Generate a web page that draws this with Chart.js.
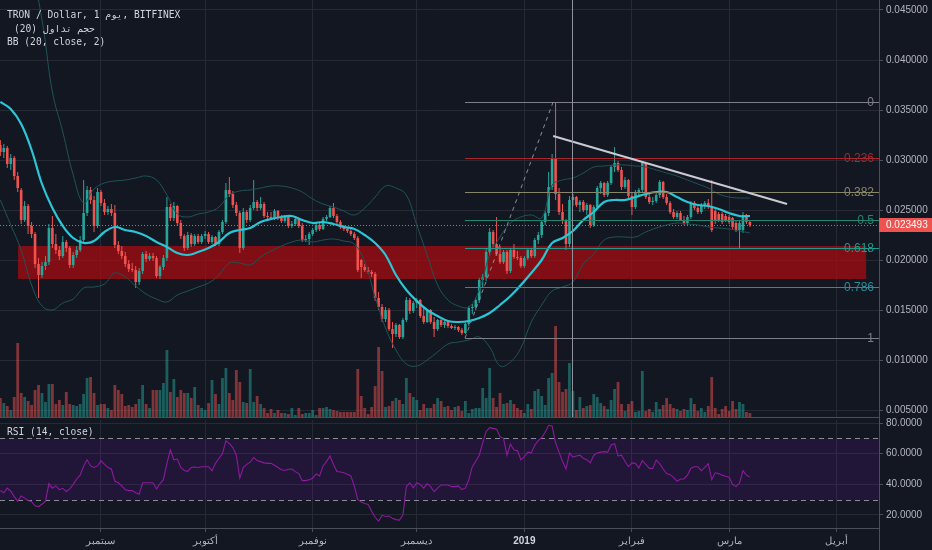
<!DOCTYPE html>
<html>
<head>
<meta charset="utf-8">
<script src="https://cdn.jsdelivr.net/npm/chart.js@4.4.1/dist/chart.umd.min.js"></script>
<style>
html, body { margin: 0; padding: 0; background: #131722; }
#wrap { position: relative; width: 932px; height: 550px; overflow: hidden; }
canvas { position: absolute; left: 0; }
</style>
</head>
<body>
<div id="wrap">
  <canvas id="priceChart" width="932" height="420" style="top:0;width:932px;height:420px"></canvas>
  <canvas id="rsiChart" width="932" height="150" style="top:400px;width:932px;height:150px"></canvas>
</div>
<script>
// day 0 = 2018-09-01, first candle is 2018-08-03
var FIRST_DAY = -29;

// month starts (days from Sep 1) and their labels
var monthDays = [0, 30, 61, 91, 122, 153, 181, 212];
var monthLabels = ['سبتمبر', 'أكتوبر', 'نوفمبر', 'ديسمبر', '2019', 'فبراير', 'مارس', 'أبريل'];

// price ticks (in 0.001 USD) and RSI ticks
var priceTicks = [5, 10, 15, 20, 25, 30, 35, 40, 45];
var rsiTicks = [20, 40, 60, 80];

// daily candles [open, high, low, close] in 0.001 USD
var candles = [
  [31.5,32.0,30.4,30.8],[30.8,31.6,30.2,31.2],[31.2,31.4,29.2,29.6],[29.6,30.6,29.0,30.2],[30.2,30.4,28.0,28.4],
  [28.4,28.8,26.8,27.2],[27.0,27.2,23.6,24.0],[24.0,25.9,23.8,25.4],[25.4,25.6,22.6,23.4],[23.4,23.8,22.2,22.6],
  [22.6,22.8,19.2,19.6],[19.6,20.2,16.2,18.5],[18.5,19.8,18.2,19.4],[19.4,20.4,19.0,19.8],[19.8,23.6,19.5,23.2],
  [23.2,24.4,21.2,21.6],[21.6,22.6,20.6,21.0],[21.0,21.4,20.0,20.4],[20.4,22.4,20.2,21.8],[21.8,22.0,20.8,21.2],
  [21.2,21.4,19.2,19.5],[19.5,20.8,19.2,20.5],[20.5,21.4,20.2,21.0],[21.0,22.4,20.8,22.0],[22.0,28.0,21.8,24.7],
  [24.7,27.4,24.4,27.0],[27.0,27.3,25.6,26.0],[26.0,26.4,22.8,23.4],[23.4,27.2,23.2,26.8],[26.8,27.0,25.4,25.7],
  [25.7,26.1,24.5,24.8],[24.8,25.4,24.5,25.1],[25.1,25.6,24.4,24.7],[24.7,25.5,21.2,21.5],[21.5,21.9,20.6,20.9],
  [20.9,21.4,20.1,20.4],[20.4,20.8,19.3,19.6],[19.6,20.0,18.8,19.1],[19.1,19.7,18.8,19.0],[19.0,19.4,17.2,17.8],
  [17.8,19.2,17.5,18.9],[18.9,20.8,18.6,20.6],[20.6,20.9,19.8,20.1],[20.1,20.7,19.9,20.4],[20.4,20.7,19.9,20.2],
  [20.2,20.4,18.2,18.4],[18.4,19.5,18.1,19.3],[19.3,20.5,19.0,20.2],[20.2,26.3,19.9,25.3],[25.3,25.6,23.9,24.2],
  [24.2,25.8,23.9,25.4],[25.4,25.5,23.4,23.7],[23.7,24.0,22.1,22.4],[22.4,22.6,20.9,21.2],[21.2,22.8,21.0,22.5],
  [22.5,22.7,21.3,21.6],[21.6,22.6,21.4,22.4],[22.4,22.6,21.6,21.8],[21.8,22.6,21.6,22.4],[22.4,22.9,22.1,22.6],
  [22.6,22.8,21.6,21.8],[21.8,22.5,21.6,22.3],[22.3,22.4,21.4,21.6],[21.6,23.0,21.4,22.8],[22.8,24.0,22.6,23.8],
  [23.8,27.7,23.6,27.0],[27.0,28.3,26.3,26.6],[26.6,26.9,25.2,25.5],[25.5,25.8,24.4,24.7],[24.7,24.9,20.7,21.2],
  [21.2,25.2,21.0,24.8],[24.8,25.0,23.7,24.0],[24.0,25.5,23.8,25.2],[25.2,28.0,25.0,25.8],[25.8,26.0,24.9,25.2],
  [25.2,26.3,25.0,25.6],[25.6,25.8,24.2,24.4],[24.4,24.8,24.0,24.3],[24.3,24.8,24.0,24.2],[24.2,25.1,24.0,24.9],
  [24.9,25.0,24.0,24.2],[24.2,24.5,23.7,23.9],[23.9,24.5,23.7,24.3],[24.3,24.4,23.2,23.4],[23.4,23.9,23.2,23.6],
  [23.6,24.3,23.4,24.1],[24.1,24.2,23.2,23.4],[23.4,23.7,21.8,22.0],[22.0,22.5,21.8,22.1],[22.1,22.8,21.5,22.6],
  [22.6,23.2,22.4,23.0],[23.0,23.7,22.8,23.5],[23.5,23.7,22.9,23.1],[23.1,24.3,23.0,24.1],[24.1,24.5,23.9,24.3],
  [24.3,25.4,24.2,25.2],[25.2,25.7,24.2,24.4],[24.4,24.6,23.6,23.8],[23.8,24.0,23.1,23.3],[23.3,23.5,22.9,23.1],
  [23.1,23.3,22.7,22.9],[22.9,23.1,22.4,22.6],[22.6,22.8,22.0,22.2],[22.2,22.4,18.8,19.0],[20.0,20.1,18.2,19.3],
  [19.3,19.6,18.8,19.0],[19.0,19.3,18.6,18.8],[18.8,19.0,18.3,18.6],[18.6,18.8,15.9,16.2],[16.2,16.8,15.0,15.3],
  [15.3,15.6,13.8,14.1],[14.1,15.3,13.8,15.0],[15.0,15.2,12.9,13.1],[13.1,13.8,11.2,12.6],[12.6,13.7,12.3,13.5],
  [13.5,13.6,12.1,12.3],[12.3,14.2,12.1,14.0],[14.0,16.3,13.8,16.0],[16.0,16.2,14.6,14.9],[14.9,15.9,14.7,15.7],
  [15.7,16.2,15.2,16.0],[16.0,16.1,14.2,14.4],[14.4,15.3,13.6,13.8],[13.8,15.1,13.7,15.0],[15.0,15.1,13.6,13.8],
  [13.8,14.3,12.3,13.1],[13.1,14.1,12.9,14.0],[14.0,14.1,13.3,13.5],[13.5,13.9,13.2,13.8],[13.8,13.9,13.2,13.4],
  [13.4,13.6,13.1,13.2],[13.2,13.5,13.0,13.3],[13.3,13.4,12.8,13.0],[13.0,13.2,12.5,12.7],[12.7,13.8,12.6,13.6],
  [13.6,15.4,13.4,15.2],[15.2,15.6,14.6,15.3],[15.3,16.2,15.0,16.0],[16.0,18.2,15.7,18.0],[18.0,18.6,17.3,18.3],
  [18.3,21.2,17.9,20.8],[20.8,23.2,20.4,22.8],[22.8,23.0,21.3,21.6],[21.6,24.3,20.4,20.6],[20.6,21.4,19.6,19.8],
  [19.8,21.0,19.6,20.8],[20.8,21.0,18.6,18.9],[18.9,21.2,18.7,21.0],[21.0,21.6,20.1,20.3],[20.3,20.9,20.0,20.2],
  [20.2,20.4,19.2,19.4],[19.4,20.4,19.2,20.2],[20.2,21.2,20.0,21.0],[21.0,21.1,20.2,20.4],[20.4,22.2,20.2,22.0],
  [22.0,22.8,21.6,22.5],[22.5,24.0,22.2,23.8],[23.8,24.9,23.5,24.7],[24.7,28.8,24.4,27.3],[27.3,30.6,27.0,30.2],
  [30.2,35.8,26.0,26.6],[26.6,27.2,24.5,24.8],[24.8,25.6,23.6,23.9],[23.9,24.1,21.0,21.6],[21.6,26.4,21.3,26.0],
  [26.0,26.6,25.4,26.3],[26.3,26.4,25.3,25.5],[25.5,26.0,24.8,25.8],[25.8,26.0,24.8,25.0],[25.0,25.7,24.5,25.5],
  [25.5,25.6,23.2,23.5],[23.5,25.5,23.3,25.3],[25.3,27.4,25.1,27.2],[27.2,27.9,26.6,27.7],[27.7,27.8,26.3,26.5],
  [26.5,27.9,26.3,27.7],[27.7,29.5,27.5,29.3],[29.3,31.3,28.8,29.7],[29.7,29.9,28.8,29.0],[29.0,29.3,27.0,27.3],
  [27.3,28.3,27.1,28.0],[28.0,28.1,26.2,26.4],[26.4,26.8,24.5,25.3],[25.3,27.0,25.1,26.8],[26.8,27.2,26.4,27.0],
  [27.0,29.9,26.7,29.7],[29.7,29.8,26.1,26.3],[26.3,26.8,25.6,25.8],[25.8,26.3,25.5,25.9],[25.9,26.7,25.7,26.5],
  [26.5,28.0,26.2,27.8],[27.8,27.9,26.1,26.3],[26.3,26.6,25.5,25.7],[25.7,25.9,24.6,24.8],[24.8,25.1,24.1,24.3],
  [24.3,24.9,24.1,24.7],[24.7,24.9,23.9,24.0],[24.0,24.4,23.5,23.7],[23.7,24.5,23.5,24.3],[24.3,25.9,24.1,25.7],
  [25.7,25.9,25.0,25.2],[25.2,25.5,24.6,24.8],[24.8,25.7,24.6,25.5],[25.5,25.9,25.1,25.7],[25.7,26.1,25.1,25.3],
  [25.3,28.0,22.8,23.0],[24.9,25.1,23.6,23.9],[24.6,24.8,23.8,24.0],[24.6,24.8,23.6,23.8],[24.4,24.6,23.8,24.0],
  [24.3,24.5,23.6,23.8],[24.2,24.3,23.1,23.3],[23.7,23.9,22.8,23.0],[23.0,23.9,21.2,23.7],[23.0,24.8,22.7,24.5],
  [24.4,24.6,23.6,23.8],[23.8,24.0,23.3,23.493]
];

// daily volume (arbitrary units)
var volume = [
  19,14,11,7,20,74,24,20,16,12,
  27,32,24,15,33,33,13,17,12,25,
  13,12,11,13,23,39,40,24,12,13,
  13,9,7,32,27,23,11,12,10,13,
  18,32,13,9,27,27,27,34,67,25,
  38,20,27,24,24,19,30,12,9,7,
  14,37,23,13,39,49,24,17,47,35,
  15,14,48,15,21,13,9,4,8,4,
  7,4,4,3,9,2,9,3,4,4,
  7,2,9,9,10,8,7,6,5,5,
  5,5,5,48,21,9,3,10,31,70,
  46,10,11,16,19,17,13,39,24,20,
  17,7,13,9,9,13,19,16,10,11,
  7,10,11,6,16,4,8,9,9,29,
  19,49,19,10,24,13,14,17,13,9,
  7,4,13,8,26,28,21,12,39,44,
  91,35,25,28,54,26,7,20,9,11,
  12,23,20,14,11,8,17,28,35,13,
  6,13,16,5,6,46,6,8,5,15,
  8,12,19,13,9,8,6,8,7,19,
  13,6,9,5,11,40,9,3,8,11,
  6,16,8,15,13,5,4
];

// RSI (14), one value per candle
var rsi = [
  36,34.5,37.5,35.5,32,29,32.4,31,29.5,28.7,
  26,25.5,27,29,40.5,37.5,39,36.5,37.4,35.3,
  37,40,43.5,46,52,56,52,51,52,55.4,
  53,51,50,42,41,39,36.5,35.9,35.9,34.5,
  33.5,41,41,41,41,37,40.5,43,53.7,62.4,
  56,56.5,51,49,48.5,51,51.3,51,51.5,51.5,
  51.5,48.9,53.7,57,60,68.5,66.5,64,59,44,
  51,53,54.5,57.5,55.5,54.8,54,53.7,53.7,52.5,
  51,49.5,49,49.8,50,48.3,47,42.4,42.4,43,
  44,46.8,45.5,52,55,58.5,53,48.3,48,47.5,
  46.5,45.5,39,30,28.5,27.5,26.8,22.5,18.5,16,
  19.8,19,19.3,17.8,17,16.7,20,38.5,41,37.8,
  41,40,37.5,40.3,38.5,35.2,37.5,39.6,39.6,39.6,
  38.5,38.5,39,36.6,37.5,43,51.5,55,59,67,
  74.5,77,76.5,76,71,70,59,66.3,62.4,62,
  56,58,61,60.5,65.5,68.5,70.5,74,78.5,78,
  67,61,55,50,60.5,57.8,58.5,59,57,56,
  54,59,60.5,61,61.3,61,65.7,66.5,58.5,59,
  55,51.5,54,53.7,50.7,55.5,53,50.4,50.4,55.8,
  53.5,50,47,46.3,44.5,42,43.5,43.5,46,50.5,
  51.5,51.5,48.9,51,53.5,43,47.5,47,46,45.3,
  44.7,40,38.5,40.7,48.9,46,44.7
];

// Bollinger bands (20, 2), read every 3 days starting at FIRST_DAY
var bbMid = [
  35.8,35.1,33.6,31.0,27.6,25.2,23.4,22.2,21.7,21.9,
  22.8,23.3,23.0,22.8,22.4,21.8,21.3,20.7,20.5,20.8,
  21.2,21.8,22.7,23.0,23.2,23.8,24.1,24.3,24.4,24.0,
  23.7,23.8,23.6,23.3,23.1,22.5,21.7,20.5,18.5,17.0,
  15.9,15.0,14.4,13.9,13.8,13.9,14.2,14.7,15.5,16.4,
  17.5,18.7,20.0,21.7,22.2,22.9,24.0,24.8,25.8,26.0,
  26.0,26.3,26.6,26.8,26.8,26.3,25.8,25.5,25.4,25.1,
  24.7,24.4,24.4
];
var bbUpper = [
  50,50,49.5,48.5,44,36.8,32.8,28.5,25.7,27.1,
  27.7,27.9,28.0,28.2,28.4,28.0,26.5,24.6,24.3,24.6,
  24.8,25.3,26.5,26.9,27.0,27.2,27.4,27.4,27.2,26.8,
  26.1,25.6,25.3,24.9,24.5,25.2,26.3,27.4,27.2,26.5,
  23.5,20.5,17.5,16.0,15.4,15.3,17.0,20.5,22.3,23.7,
  24.3,24.5,24.2,27.5,28.0,28.2,28.7,29.3,29.4,29.5,
  29.5,29.4,29.3,29.0,28.7,28.4,28.0,27.6,27.2,26.6,
  26.3,26.2,26.2
];
var bbLower = [
  26.0,23.5,21.0,17.5,15.4,15.0,15.7,16.1,17.2,17.3,
  17.6,18.7,18.3,17.4,16.6,16.1,15.8,16.5,16.9,17.3,
  17.7,18.5,19.7,19.7,19.5,20.3,20.9,21.4,21.8,22.0,
  21.8,22.0,22.1,21.9,21.6,19.8,16.3,13.2,11.0,9.6,
  9.4,10.0,10.8,11.6,11.8,12.0,12.3,11.3,9.4,9.8,
  11.2,13.8,15.5,16.9,17.3,17.8,19.6,20.6,22.0,22.3,
  22.3,22.3,22.8,23.2,23.5,23.7,23.6,23.5,23.3,23.2,
  23.1,22.9,22.7
];

// drawings (day, price)
var fibLevels = [0, 0.236, 0.382, 0.5, 0.618, 0.786, 1];
var fibColors = ['#7d7f86', '#a8262c', '#85866a', '#23866f', '#1f9a8e', '#2a8d9a', '#7d7f86'];
var fibHigh = 35.8, fibLow = 12.2, fibStartDay = 104.9, fibPeakDay = 130.3;
var zone = { from: -23.9, to: 220.5, top: 21.4, bottom: 18.1 };
var trendLine = [[130.3, 32.4], [197.7, 25.6]];
var crosshairDay = 135.75;

var X_MIN = -29.1, X_MAX = 224.2;
var UP = '#26a69a', DOWN = '#ef5350';
var GRID = '#262a35', AXIS = '#4a4e59', TEXT = '#b2b5be';

var days = candles.map(function (c, i) { return FIRST_DAY + i; });
var bbDays = bbMid.map(function (v, i) { return FIRST_DAY + 3 * i; });
var candleColors = candles.map(function (c) { return c[3] >= c[0] ? UP : DOWN; });
var volColors = candles.map(function (c) { return c[3] >= c[0] ? 'rgba(38,166,154,0.5)' : 'rgba(239,83,80,0.5)'; });
var lastClose = candles[candles.length - 1][3];

function pts(xs, ys) { return xs.map(function (x, i) { return { x: x, y: ys[i] }; }); }
function setMonthTicks(s) { s.ticks = monthDays.map(function (v) { return { value: v }; }); }

var overlays = {
    id: 'overlays',
    beforeDatasetsDraw: function (chart) {
        var ctx = chart.ctx, a = chart.chartArea, x = chart.scales.x, y = chart.scales.y;
        ctx.save();
        ctx.beginPath(); ctx.rect(a.left, a.top, a.width, a.height); ctx.clip();
        // support zone
        var zx1 = x.getPixelForValue(zone.from), zx2 = x.getPixelForValue(zone.to);
        var zy1 = y.getPixelForValue(zone.top), zy2 = y.getPixelForValue(zone.bottom);
        ctx.fillStyle = 'rgba(165,12,16,0.75)';
        ctx.fillRect(zx1, zy1, zx2 - zx1, zy2 - zy1);
        // last price line
        var py = Math.round(y.getPixelForValue(lastClose)) + 0.5;
        ctx.strokeStyle = DOWN; ctx.lineWidth = 1; ctx.setLineDash([1, 2]);
        ctx.beginPath(); ctx.moveTo(a.left, py); ctx.lineTo(a.right, py); ctx.stroke();
        ctx.restore();
    },
    afterDatasetsDraw: function (chart) {
        var ctx = chart.ctx, a = chart.chartArea, x = chart.scales.x, y = chart.scales.y;
        ctx.save();
        ctx.beginPath(); ctx.rect(a.left, a.top, a.width, a.height); ctx.clip();
        // fib retracement
        var fx = x.getPixelForValue(fibStartDay);
        fibLevels.forEach(function (lv, i) {
            var fy = Math.round(y.getPixelForValue(fibHigh - lv * (fibHigh - fibLow))) + 0.5;
            ctx.strokeStyle = fibColors[i]; ctx.lineWidth = 1;
            ctx.beginPath(); ctx.moveTo(fx, fy); ctx.lineTo(a.right, fy); ctx.stroke();
            ctx.fillStyle = fibColors[i];
            ctx.font = '12px "Liberation Sans", Arial, sans-serif';
            ctx.textAlign = 'right'; ctx.textBaseline = 'middle';
            ctx.fillText(String(lv), a.right - 5, fy);
        });
        ctx.strokeStyle = '#8b8e96'; ctx.setLineDash([4, 4]);
        ctx.beginPath();
        ctx.moveTo(fx, y.getPixelForValue(fibLow));
        ctx.lineTo(x.getPixelForValue(fibPeakDay), y.getPixelForValue(fibHigh));
        ctx.stroke();
        ctx.setLineDash([]);
        // trend line
        ctx.strokeStyle = '#c9cbd1'; ctx.lineWidth = 2;
        ctx.beginPath();
        ctx.moveTo(x.getPixelForValue(trendLine[0][0]), y.getPixelForValue(trendLine[0][1]));
        ctx.lineTo(x.getPixelForValue(trendLine[1][0]), y.getPixelForValue(trendLine[1][1]));
        ctx.stroke();
        // crosshair
        var cx = Math.round(x.getPixelForValue(crosshairDay)) + 0.5;
        ctx.strokeStyle = '#8f929a'; ctx.lineWidth = 1;
        ctx.beginPath(); ctx.moveTo(cx, a.top); ctx.lineTo(cx, a.bottom); ctx.stroke();
        ctx.restore();
    },
    afterDraw: function (chart) {
        var ctx = chart.ctx, a = chart.chartArea, y = chart.scales.y;
        ctx.save();
        // price label on the scale
        var py = Math.round(y.getPixelForValue(lastClose));
        ctx.fillStyle = DOWN;
        ctx.fillRect(a.right, py - 7, chart.width - a.right, 14);
        ctx.fillStyle = '#ffffff';
        ctx.font = '10px "Liberation Sans", Arial, sans-serif';
        ctx.textAlign = 'left'; ctx.textBaseline = 'middle';
        ctx.fillText((lastClose / 1000).toFixed(6), a.right + 7, py);
        // scale border down to the panel below
        ctx.strokeStyle = AXIS; ctx.lineWidth = 1;
        ctx.beginPath(); ctx.moveTo(a.right + 0.5, a.bottom); ctx.lineTo(a.right + 0.5, chart.height); ctx.stroke();
        // legend
        ctx.fillStyle = '#d1d4dc';
        ctx.font = '9.6px "DejaVu Sans Mono", monospace';
        ctx.fillText('TRON / Dollar, 1 يوم, BITFINEX', 7, 15);
        ctx.fillText('(20) حجم تداول', 14, 29);
        ctx.fillText('BB (20, close, 2)', 7, 42);
        ctx.restore();
    }
};

var priceChart = new Chart(document.getElementById('priceChart'), {
    type: 'bar',
    data: {
        datasets: [
            { type: 'line', data: pts(bbDays, bbMid), borderColor: '#2bc6d6', borderWidth: 2.2, pointRadius: 0, tension: 0.4, order: 1 },
            { type: 'line', data: pts(bbDays, bbUpper), borderColor: '#1f5458', borderWidth: 1, pointRadius: 0, tension: 0.4, order: 2 },
            { type: 'line', data: pts(bbDays, bbLower), borderColor: '#1f5458', borderWidth: 1, pointRadius: 0, tension: 0.4, order: 2 },
            {
                data: candles.map(function (c, i) { return { x: days[i], y: [Math.min(c[0], c[3]), Math.max(c[0], c[3])] }; }),
                backgroundColor: candleColors, barThickness: 2.6, minBarLength: 1, inflateAmount: 0, grouped: false, order: 3
            },
            {
                data: candles.map(function (c, i) { return { x: days[i], y: [c[2], c[1]] }; }),
                backgroundColor: candleColors, barThickness: 1, inflateAmount: 0, grouped: false, order: 4
            },
            {
                yAxisID: 'yv',
                data: pts(days, volume),
                backgroundColor: volColors, barThickness: 2.8, inflateAmount: 0, grouped: false, order: 5
            }
        ]
    },
    options: {
        responsive: false,
        animation: false,
        events: [],
        layout: { padding: 0 },
        plugins: { legend: { display: false }, tooltip: { enabled: false } },
        scales: {
            x: {
                type: 'linear', min: X_MIN, max: X_MAX, offset: false,
                grid: { color: GRID, drawTicks: false, offset: false },
                ticks: { display: false },
                border: { display: true, color: AXIS },
                afterBuildTicks: setMonthTicks,
                afterFit: function (s) { s.height = 3; s.paddingLeft = 0; s.paddingRight = 0; }
            },
            y: {
                position: 'right', min: 4.3, max: 46,
                grid: { color: GRID, tickColor: AXIS, tickLength: 4 },
                border: { display: true, color: AXIS },
                ticks: {
                    color: TEXT, padding: 3,
                    font: { family: '"Liberation Sans", Arial, sans-serif', size: 10 },
                    callback: function (v) { return (v / 1000).toFixed(6); }
                },
                afterBuildTicks: function (s) { s.ticks = priceTicks.map(function (v) { return { value: v }; }); },
                afterFit: function (s) { s.width = 53; s.paddingTop = 0; s.paddingBottom = 0; }
            },
            yv: { display: false, min: 0, max: 417 }
        }
    },
    plugins: [overlays]
});

var rsiDecor = {
    id: 'rsiDecor',
    beforeDatasetsDraw: function (chart) {
        var ctx = chart.ctx, a = chart.chartArea, y = chart.scales.y;
        var y70 = Math.round(y.getPixelForValue(70)) + 0.5, y30 = Math.round(y.getPixelForValue(30)) + 0.5;
        ctx.save();
        ctx.fillStyle = 'rgba(153,21,255,0.1)';
        ctx.fillRect(a.left, y70, a.width, y30 - y70);
        ctx.strokeStyle = '#8a8d96'; ctx.lineWidth = 1; ctx.setLineDash([5, 4]);
        ctx.beginPath();
        ctx.moveTo(a.left, y70); ctx.lineTo(a.right, y70);
        ctx.moveTo(a.left, y30); ctx.lineTo(a.right, y30);
        ctx.stroke();
        ctx.restore();
    },
    afterDraw: function (chart) {
        var ctx = chart.ctx, a = chart.chartArea;
        ctx.save();
        ctx.strokeStyle = AXIS; ctx.lineWidth = 1;
        ctx.beginPath(); ctx.moveTo(a.right + 0.5, a.top); ctx.lineTo(a.right + 0.5, chart.height); ctx.stroke();
        ctx.fillStyle = '#d1d4dc';
        ctx.font = '9.6px "DejaVu Sans Mono", monospace';
        ctx.textBaseline = 'middle';
        ctx.fillText('RSI (14, close)', 7, a.top + 12);
        ctx.restore();
    }
};

var rsiChart = new Chart(document.getElementById('rsiChart'), {
    type: 'line',
    data: {
        datasets: [{
            data: pts(days, rsi),
            borderColor: '#8e1a9e', borderWidth: 1.1, pointRadius: 0, tension: 0
        }]
    },
    options: {
        responsive: false,
        animation: false,
        events: [],
        layout: { padding: { top: 20, left: 0, right: 0, bottom: 0 } },
        plugins: { legend: { display: false }, tooltip: { enabled: false } },
        scales: {
            x: {
                type: 'linear', min: X_MIN, max: X_MAX, offset: false,
                grid: { color: GRID, tickColor: AXIS, tickLength: 4 },
                border: { display: true, color: AXIS },
                ticks: {
                    padding: 3, maxRotation: 0, autoSkip: false,
                    color: function (c) { return c.tick && c.tick.value === 122 ? '#d1d4dc' : TEXT; },
                    font: function (c) {
                        return { family: '"Liberation Sans", Arial, sans-serif', size: 10, weight: c.tick && c.tick.value === 122 ? 'bold' : 'normal' };
                    },
                    callback: function (v) { var k = monthDays.indexOf(v); return k < 0 ? '' : monthLabels[k]; }
                },
                afterBuildTicks: setMonthTicks,
                afterFit: function (s) { s.height = 22; s.paddingLeft = 0; s.paddingRight = 0; }
            },
            y: {
                position: 'right', min: 11.52, max: 81.96,
                grid: { color: GRID, tickColor: AXIS, tickLength: 4 },
                border: { display: true, color: AXIS },
                ticks: {
                    color: TEXT, padding: 3,
                    font: { family: '"Liberation Sans", Arial, sans-serif', size: 10 },
                    callback: function (v) { return v.toFixed(4); }
                },
                afterBuildTicks: function (s) { s.ticks = rsiTicks.map(function (v) { return { value: v }; }); },
                afterFit: function (s) { s.width = 53; s.paddingTop = 0; s.paddingBottom = 0; }
            }
        }
    },
    plugins: [rsiDecor]
});
</script>
</body>
</html>
